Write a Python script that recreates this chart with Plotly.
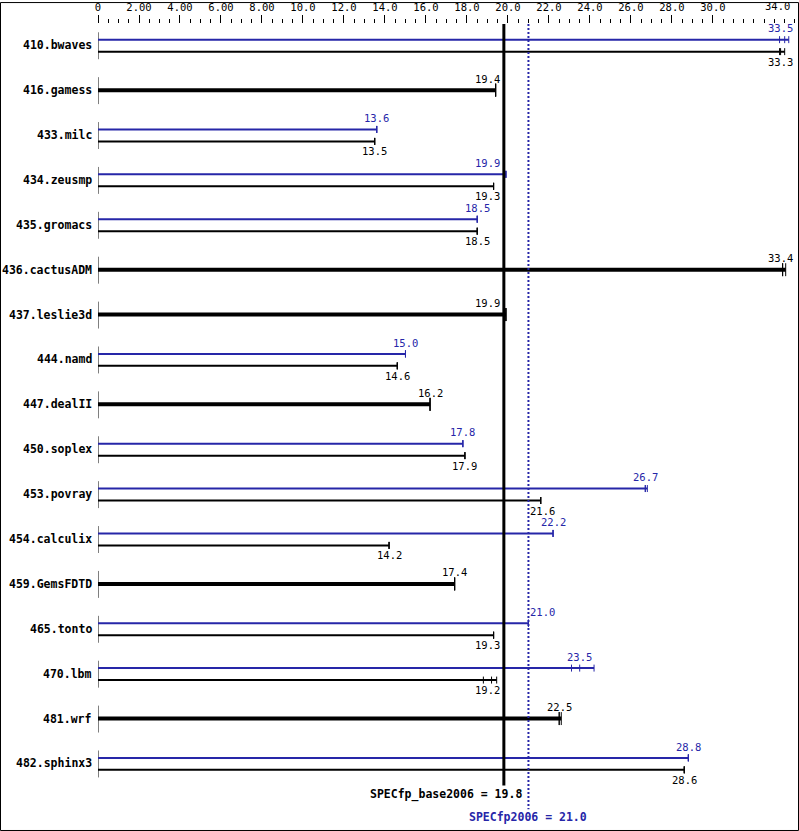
import plotly.graph_objects as go
import numpy as np

# ---------------- data ----------------
benchmarks = ["410.bwaves", "416.gamess", "433.milc", "434.zeusmp", "435.gromacs",
              "436.cactusADM", "437.leslie3d", "444.namd", "447.dealII", "450.soplex",
              "453.povray", "454.calculix", "459.GemsFDTD", "465.tonto", "470.lbm",
              "481.wrf", "482.sphinx3"]
base_median = [33.3, 19.4, 13.5, 19.3, 18.5, 33.4, 19.9, 14.6, 16.2, 17.9,
               21.6, 14.2, 17.4, 19.3, 19.2, 22.5, 28.6]
peak_median = [33.5, None, 13.6, 19.9, 18.5, None, None, 15.0, None, 17.8,
               26.7, 22.2, None, 21.0, 23.5, None, 28.8]
base_runs = [[33.25, 33.3, 33.5], [19.4, 19.4, 19.4], [13.5, 13.5, 13.5], [19.3, 19.3, 19.3],
             [18.5, 18.5, 18.5], [33.4, 33.4, 33.55], [19.9, 19.9, 19.9], [14.6, 14.6, 14.6],
             [16.2, 16.2, 16.2], [17.9, 17.9, 17.9], [21.6, 21.6, 21.6], [14.2, 14.2, 14.2],
             [17.4, 17.4, 17.4], [19.3, 19.3, 19.3], [18.8, 19.2, 19.45], [22.5, 22.5, 22.6],
             [28.6, 28.6, 28.6]]
peak_runs = [[33.25, 33.5, 33.7], None, [13.6, 13.6, 13.6], [19.9, 19.9, 19.9],
             [18.5, 18.5, 18.5], None, None, [15.0, 15.0, 15.0], None, [17.8, 17.8, 17.8],
             [26.7, 26.7, 26.8], [22.2, 22.2, 22.2], None, [21.0, 21.0, 21.0],
             [23.1, 23.5, 24.2], None, [28.8, 28.8, 28.8]]
spec_base = 19.8
spec_peak = 21.0
base_label = "SPECfp_base2006 = 19.8"
peak_label = "SPECfp2006 = 21.0"
major_ticks = [0, 2, 4, 6, 8, 10, 12, 14, 16, 18, 20, 22, 24, 26, 28, 30, 32, 34]
major_text = ["0", "2.00", "4.00", "6.00", "8.00", "10.0", "12.0", "14.0", "16.0", "18.0",
              "20.0", "22.0", "24.0", "26.0", "28.0", "30.0", "", ""]
last_tick_text = "34.0"

# ---------------- layout constants ----------------
W, H = 799, 831
ML, MR, MT, MB = 98, 1, 22, 1
XMAX = 34.15
PW = W - ML - MR
PH = H - MT - MB
PX = PW / XMAX          # pixels per unit
ROWPX = 45.0
Y0PX = 21.3             # first row centre below plot top
ytop = -Y0PX / ROWPX
ybot = ytop + PH / ROWPX

BLUE = "#2626a8"
BLACK = "#000000"
MONO = "DejaVu Sans Mono"

def py(p):
    return p / ROWPX

fig = go.Figure()

def add_seg(xs, ys, color, width, dash=None):
    fig.add_trace(go.Scatter(x=xs, y=ys, mode="lines", hoverinfo="skip", showlegend=False,
                             line=dict(color=color, width=width, dash=dash)))

# start ticks at 0
sx, sy = [], []
for i in range(len(benchmarks)):
    sx += [0, 0, None]
    sy += [i - py(13), i + py(14), None]
add_seg(sx, sy, BLACK, 1)

# bars
lines = {"blue": ([], []), "black": ([], []), "thick": ([], [])}
caps = {"blue": ([], []), "black": ([], []), "thick": ([], [])}
for i in range(len(benchmarks)):
    if peak_median[i] is None:
        yy = i
        runs = base_runs[i]
        lx, ly = lines["thick"]
        lx += [0, max(runs), None]; ly += [yy, yy, None]
        cx, cy = caps["thick"]
        for r in runs:
            cx += [r, r, None]; cy += [yy - py(6.5), yy + py(6.5), None]
    else:
        for key, runs, off in (("blue", peak_runs[i], -5.6), ("black", base_runs[i], 6.4)):
            yy = i + py(off)
            lx, ly = lines[key]
            lx += [0, max(runs), None]; ly += [yy, yy, None]
            cx, cy = caps[key]
            for r in runs:
                cx += [r, r, None]; cy += [yy - py(3.5), yy + py(3.5), None]

add_seg(*lines["blue"], BLUE, 2)
add_seg(*lines["black"], BLACK, 2)
add_seg(*lines["thick"], BLACK, 4)
add_seg(*caps["blue"], BLUE, 1)
add_seg(*caps["black"], BLACK, 1)
add_seg(*caps["thick"], BLACK, 1)

# reference lines
add_seg([spec_base, spec_base], [ytop, 16 + py(22)], BLACK, 3)
add_seg([spec_peak, spec_peak], [ytop, 17 + py(1)], BLUE, 2, dash="2px,2px")

annotations = []

base_px = spec_base * PX
peak_px = spec_peak * PX

def label_shift(v, half=12.0):
    c = v * PX
    left, right = c - half, c + half
    nc = c
    if left < base_px + 3 and right > base_px - 3:
        nc = base_px - 4 - half
    elif left < peak_px + 2 and right > peak_px - 2:
        nc = peak_px + 2 + half
    if ML + nc + half > 792:
        nc = 792 - ML - half
    return nc - c

def add_label(v, y, color):
    annotations.append(dict(x=v, y=y, xref="x", yref="y", text="%.1f" % v, showarrow=False,
                            xanchor="center", yanchor="middle", xshift=label_shift(v),
                            font=dict(family=MONO, size=10.5, color=color)))

for i, name in enumerate(benchmarks):
    annotations.append(dict(x=0, y=i, xref="x", yref="y", text="<b>%s</b>" % name,
                            showarrow=False, xanchor="right", yanchor="middle", xshift=-4,
                            font=dict(family=MONO, size=11.5, color=BLACK)))
    if peak_median[i] is None:
        add_label(base_median[i], i + py(-11.5), BLACK)
    else:
        add_label(peak_median[i], i + py(-16.8), BLUE)
        add_label(base_median[i], i + py(16.5), BLACK)

annotations.append(dict(x=spec_peak, y=16 + py(31.5), xref="x", yref="y",
                        text="<b>%s</b>" % base_label, showarrow=False, xanchor="right",
                        yanchor="middle", xshift=-4,
                        font=dict(family=MONO, size=11.5, color=BLACK)))
annotations.append(dict(x=spec_peak, y=17 + py(9), xref="x", yref="y",
                        text="<b>%s</b>" % peak_label, showarrow=False, xanchor="center",
                        yanchor="middle",
                        font=dict(family=MONO, size=11.5, color=BLUE)))
annotations.append(dict(x=major_ticks[-1], y=1, xref="x", yref="paper", text=last_tick_text,
                        showarrow=False, xanchor="right", yanchor="bottom", xshift=-3,
                        yshift=10, font=dict(family=MONO, size=10.5, color=BLACK)))

fig.update_layout(
    width=W, height=H,
    margin=dict(l=ML, r=MR, t=MT, b=MB, pad=0),
    paper_bgcolor="white", plot_bgcolor="white",
    showlegend=False,
    annotations=annotations,
    xaxis=dict(range=[0, XMAX], side="top", showgrid=False, zeroline=False, showline=False,
               tickmode="array", tickvals=major_ticks, ticktext=major_text,
               ticks="outside", ticklen=8, tickwidth=1, tickcolor=BLACK,
               tickfont=dict(family=MONO, size=10.5, color=BLACK),
               minor=dict(tickmode="array", tickvals=list(np.arange(0, 34.01, 0.5)),
                          ticks="outside", ticklen=4, tickwidth=1, tickcolor=BLACK,
                          showgrid=False),
               fixedrange=True),
    yaxis=dict(range=[ybot, ytop], visible=False, fixedrange=True),
    shapes=[dict(type="rect", xref="paper", yref="paper",
                 x0=(0.5 - ML) / PW, x1=(W - 0.5 - ML) / PW,
                 y0=-(MB - 0.5) / PH, y1=1 + (MT - 0.5) / PH,
                 line=dict(color=BLACK, width=1), fillcolor="rgba(0,0,0,0)", layer="above")],
)

fig.write_html("out.html", config={"displayModeBar": False},
               post_script="document.body.style.margin='0';document.body.style.overflow='hidden';")
